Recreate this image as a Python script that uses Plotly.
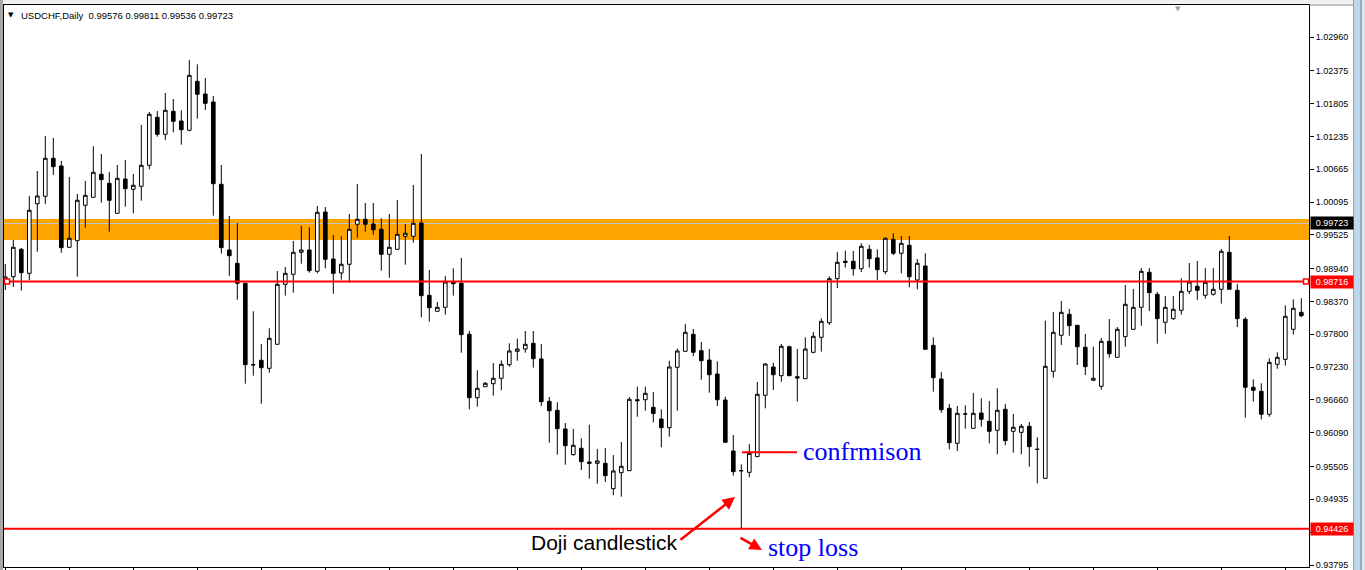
import plotly.graph_objects as go

# ---------------- data (USDCHF daily) ----------------
bar_index = list(range(163))

open_ = [0.98725,0.98799,0.99275,0.98858,1.00066,1.00195,1.00855,1.00721,0.99310,0.99424,
         1.00039,1.00178,1.00577,1.00421,0.99900,1.00495,1.00316,1.00369,1.00733,1.01566,
         1.01271,1.01670,1.01502,1.01341,1.02191,1.01971,1.01832,1.00403,0.99263,0.99032,
         0.98685,0.97271,0.97348,0.97209,0.97626,0.98667,0.98841,0.99223,0.99263,0.98893,
         0.99922,0.99106,0.98864,0.99015,0.99709,0.99796,0.99714,0.99622,0.99188,0.99275,
         0.99501,0.99501,0.99732,0.98477,0.98199,0.98268,0.98707,0.98685,0.97800,0.96699,
         0.96890,0.96942,0.97036,0.97272,0.97504,0.97544,0.97643,0.97371,0.96636,0.96480,
         0.96156,0.95710,0.95821,0.95583,0.95560,0.95560,0.95120,0.95397,0.95432,0.96664,
         0.96664,0.96532,0.96329,0.96179,0.97227,0.97504,0.97800,0.97515,0.97353,0.97110,
         0.96659,0.95774,0.95432,0.95404,0.95676,0.96741,0.97232,0.97081,0.97584,0.97063,
         0.97029,0.97487,0.97747,0.98001,0.98765,0.99067,0.99067,0.98938,0.99275,0.99126,
         0.98886,0.99448,0.99206,0.99345,0.98742,0.98985,0.97608,0.97024,0.96515,0.95908,
         0.96416,0.96168,0.96433,0.96289,0.96133,0.96498,0.96116,0.96098,0.96203,0.95803,
         0.95300,0.97157,0.97782,0.98147,0.97956,0.97574,0.97001,0.96897,0.97678,0.97400,
         0.97758,0.97886,0.98268,0.98876,0.98494,0.98008,0.98071,0.98216,0.98546,0.98633,
         0.98477,0.98494,0.98581,0.99223,0.98564,0.98061,0.96880,0.96810,0.96411,0.97279,
         0.97365,0.97886,0.98181]

high = [0.99020,0.99436,0.99298,1.00200,1.00634,1.01242,1.01207,1.00808,1.00530,1.00235,
        1.00461,1.01063,1.00929,1.00617,1.00738,1.00825,1.00582,1.01433,1.01658,1.01676,
        1.01988,1.01884,1.01688,1.02561,1.02486,1.02248,1.01936,1.00738,0.99853,0.99732,
        0.98690,0.98199,0.97631,0.97904,0.98898,0.98968,0.99419,0.99679,0.99657,1.00027,
        1.00009,0.99523,0.99501,0.99888,1.00409,1.00079,1.00079,0.99813,0.99888,1.00131,
        0.99714,1.00391,1.00929,0.98916,0.98360,0.98812,0.98945,0.99124,0.97857,0.97175,
        0.96972,0.97301,0.97348,0.97643,0.97723,0.97857,0.97857,0.97631,0.96711,0.96619,
        0.96260,0.96156,0.95994,0.96230,0.95809,0.95826,0.95704,0.95930,0.96711,0.96890,
        0.96890,0.96798,0.96498,0.97341,0.97550,0.97978,0.97892,0.97666,0.97544,0.97330,
        0.96717,0.96052,0.95543,0.95895,0.96972,0.97301,0.97307,0.97631,0.97602,0.97544,
        0.97747,0.97839,0.98077,0.98806,0.99228,0.99251,0.99246,0.99379,0.99350,0.99275,
        0.99483,0.99553,0.99506,0.99506,0.99106,0.99206,0.97747,0.97145,0.96590,0.96555,
        0.96567,0.96781,0.96689,0.96642,0.96862,0.96590,0.96416,0.96243,0.96277,0.96012,
        0.98036,0.98187,0.98377,0.98239,0.97956,0.97805,0.97584,0.97735,0.98065,0.97926,
        0.98655,0.98586,0.98950,0.98950,0.98534,0.98465,0.98465,0.98772,0.99037,0.99072,
        0.98950,0.98950,0.99280,0.99506,0.98673,0.98095,0.97018,0.96949,0.97383,0.97487,
        0.98303,0.98407,0.98425]

low = [0.98569,0.98621,0.98560,0.98742,0.99233,1.00061,1.00565,0.99216,0.99303,0.98799,
       0.99650,1.00178,1.00084,0.99581,0.99900,1.00014,0.99900,1.00119,1.00664,1.01230,
       1.01172,1.01306,1.01091,1.01323,1.01542,1.01693,0.99858,0.99202,0.98812,0.98400,
       0.96942,0.97081,0.96595,0.97133,0.97626,0.98470,0.98522,0.99025,0.98869,0.98858,
       0.98945,0.98504,0.98747,0.98695,0.99476,0.99581,0.99528,0.98904,0.98782,0.99275,
       0.99008,0.99390,0.98095,0.98018,0.98199,0.98140,0.98470,0.97480,0.96498,0.96543,
       0.96890,0.96734,0.96829,0.97237,0.97341,0.97480,0.97220,0.96555,0.95918,0.95710,
       0.95536,0.95693,0.95444,0.95293,0.95206,0.95236,0.95005,0.94981,0.95432,0.96369,
       0.96473,0.96269,0.95838,0.96022,0.96473,0.97504,0.97423,0.97011,0.96786,0.96555,
       0.95925,0.95345,0.94426,0.95317,0.95676,0.96515,0.96833,0.96977,0.97081,0.96630,
       0.97029,0.97470,0.97498,0.97961,0.98603,0.98956,0.98817,0.98881,0.98956,0.98742,
       0.98841,0.99176,0.98858,0.98616,0.98581,0.97539,0.96803,0.96439,0.95803,0.95774,
       0.96161,0.96168,0.96196,0.95908,0.95717,0.95873,0.95744,0.95717,0.95501,0.95213,
       0.95300,0.97046,0.97614,0.97774,0.97266,0.97093,0.97001,0.96838,0.97393,0.97400,
       0.97584,0.97886,0.97949,0.98204,0.97636,0.97810,0.98048,0.98140,0.98499,0.98395,
       0.98418,0.98470,0.98331,0.98581,0.97926,0.96352,0.96630,0.96324,0.96369,0.97202,
       0.97255,0.97793,0.98095]

close = [0.98794,0.99310,0.98869,0.99952,1.00200,1.00855,1.00709,0.99303,0.99466,1.00126,
         1.00212,1.00612,1.00483,1.00126,1.00507,1.00327,1.00386,1.00733,1.01618,1.01271,
         1.01688,1.01497,1.01351,1.02295,1.01966,1.01809,1.00414,0.99303,0.99164,0.98685,
         0.97272,0.97271,0.97220,0.97730,0.98667,0.98858,0.99223,0.99263,0.98904,0.99917,
         0.99101,0.98858,0.99015,0.99622,0.99796,0.99709,0.99615,0.99188,0.99310,0.99535,
         0.99553,0.99726,0.98470,0.98261,0.98268,0.98707,0.98678,0.97793,0.96699,0.96862,
         0.96949,0.97036,0.97279,0.97510,0.97544,0.97626,0.97376,0.96630,0.96473,0.96161,
         0.95866,0.95873,0.95588,0.95560,0.95601,0.95345,0.95427,0.95508,0.96671,0.96647,
         0.96775,0.96425,0.96179,0.97232,0.97510,0.97834,0.97487,0.97341,0.97098,0.96664,
         0.95925,0.95415,0.95432,0.95734,0.96758,0.97284,0.97098,0.97591,0.97081,0.97041,
         0.97544,0.97765,0.98025,0.98765,0.99049,0.99049,0.98938,0.99327,0.99112,0.98921,
         0.99466,0.99206,0.99379,0.98799,0.99032,0.97539,0.97046,0.96491,0.95918,0.96428,
         0.96416,0.96428,0.96324,0.96116,0.96480,0.95953,0.96186,0.96203,0.95849,0.95803,
         0.97244,0.97834,0.98181,0.97949,0.97584,0.97237,0.97036,0.97678,0.97463,0.97886,
         0.98320,0.98268,0.98893,0.98522,0.98071,0.98268,0.98234,0.98546,0.98707,0.98564,
         0.98702,0.98581,0.99240,0.98581,0.98071,0.96880,0.96828,0.96411,0.97313,0.97400,
         0.98112,0.98251,0.98122]

price_ticks = [1.02960, 1.02375, 1.01805, 1.01235, 1.00665, 1.00095, 0.99525, 0.98940,
               0.98370, 0.97800, 0.97230, 0.96660, 0.96090, 0.95505, 0.94935, 0.94365, 0.93795]
price_tick_text = ["%.5f" % v for v in price_ticks]

header_text = "USDCHF,Daily \u00a00.99576 0.99811 0.99536 0.99723"
bid_price = 0.99723
resistance_zone = (0.99436, 0.99801)
support_line = 0.98716
stop_loss_level = 0.94426
confirmation_level = 0.95750

# ---------------- geometry helpers (pixel -> paper) ----------------
W, H = 1365, 570
ML, MR, MT, MB = 4, 56, 5, 3
PW, PH = W - ML - MR, H - MT - MB


def xp(px):
    return (px - ML) / PW


def yp(py):
    return (H - MB - py) / PH


fig = go.Figure()
fig.add_trace(go.Candlestick(
    x=bar_index, open=open_, high=high, low=low, close=close,
    increasing=dict(line=dict(color="black", width=1), fillcolor="white"),
    decreasing=dict(line=dict(color="black", width=1), fillcolor="black"),
    whiskerwidth=0, hoverinfo="skip", showlegend=False,
))

shapes = []
# orange resistance zone and grey bid line
shapes.append(dict(type="rect", xref="paper", yref="y", x0=0, x1=1,
                   y0=resistance_zone[0], y1=resistance_zone[1],
                   fillcolor="#FFA500", line=dict(width=0), layer="below"))
shapes.append(dict(type="line", xref="paper", yref="y", x0=0, x1=1,
                   y0=bid_price, y1=bid_price, line=dict(color="#C8C8C8", width=1), layer="below"))
# red horizontal levels
for lvl in (support_line, stop_loss_level):
    shapes.append(dict(type="line", xref="paper", yref="y", x0=0, x1=1, y0=lvl, y1=lvl,
                       line=dict(color="#FF0000", width=2), layer="above"))
# small squares at ends of support line
for px in (7, 1306):
    shapes.append(dict(type="rect", xref="paper", yref="y", xsizemode="pixel", ysizemode="pixel",
                       xanchor=xp(px), yanchor=support_line, x0=-2.5, x1=2.5, y0=-2.5, y1=2.5,
                       fillcolor="white", line=dict(color="#FF0000", width=1.5), layer="above"))
# confirmation line
shapes.append(dict(type="line", xref="paper", yref="y", x0=xp(742), x1=xp(797),
                   y0=confirmation_level, y1=confirmation_level,
                   line=dict(color="#FF0000", width=2), layer="above"))
# window chrome: top strip, left strip, scrollbar
shapes.append(dict(type="rect", xref="paper", yref="paper", x0=xp(0), x1=xp(1365), y0=yp(0), y1=yp(3.5),
                   fillcolor="#F0F0F0", line=dict(width=0), layer="below"))
shapes.append(dict(type="rect", xref="paper", yref="paper", x0=xp(0), x1=xp(3), y0=yp(0), y1=yp(570),
                   fillcolor="#A8A8A8", line=dict(width=0), layer="below"))
shapes.append(dict(type="line", xref="paper", yref="paper", x0=1, x1=xp(1354), y0=1, y1=1,
                   line=dict(color="#808080", width=1)))
shapes.append(dict(type="rect", xref="paper", yref="paper", x0=xp(1353), x1=xp(1354.5), y0=yp(0), y1=yp(570),
                   fillcolor="#A0A0A0", line=dict(width=0)))
shapes.append(dict(type="rect", xref="paper", yref="paper", x0=xp(1354.5), x1=xp(1360), y0=yp(0), y1=yp(570),
                   fillcolor="#BCD8F0", line=dict(width=0)))
shapes.append(dict(type="rect", xref="paper", yref="paper", x0=xp(1360), x1=xp(1362), y0=yp(0), y1=yp(570),
                   fillcolor="#8EAFCB", line=dict(width=0)))
shapes.append(dict(type="rect", xref="paper", yref="paper", x0=xp(1362), x1=xp(1365), y0=yp(0), y1=yp(570),
                   fillcolor="#E4E4E4", line=dict(width=0)))

ann = []
# header
ann.append(dict(xref="paper", yref="paper", x=xp(11), y=yp(15), text="\u25BC", showarrow=False,
                font=dict(family="DejaVu Sans", size=7, color="black"), xanchor="center", yanchor="middle"))
ann.append(dict(xref="paper", yref="paper", x=xp(19), y=yp(15), text=header_text, showarrow=False,
                font=dict(family="Liberation Sans", size=9.5, color="black"), xanchor="left", yanchor="middle"))
# chart-shift marker
ann.append(dict(xref="paper", yref="paper", x=xp(1178), y=yp(9), text="\u25BC", showarrow=False,
                font=dict(family="DejaVu Sans", size=7, color="#A0A0A0"), xanchor="center", yanchor="middle"))
# price tags on the axis
for val, bg in ((bid_price, "black"), (support_line, "#FF0000"), (stop_loss_level, "#FF0000")):
    ann.append(dict(xref="paper", yref="y", x=xp(1310), y=val, text="%.5f" % val, showarrow=False,
                    xanchor="left", yanchor="middle", bgcolor=bg, borderpad=1, width=40, align="center",
                    font=dict(family="Liberation Sans", size=9, color="white")))
# text labels
ann.append(dict(xref="paper", yref="paper", x=xp(801), y=yp(451), text="confrmison", showarrow=False,
                xanchor="left", yanchor="middle",
                font=dict(family="Liberation Serif", size=26, color="#0000FF")))
ann.append(dict(xref="paper", yref="paper", x=xp(766), y=yp(547), text="stop loss", showarrow=False,
                xanchor="left", yanchor="middle",
                font=dict(family="Liberation Serif", size=26, color="#0000FF")))
ann.append(dict(xref="paper", yref="paper", x=xp(529), y=yp(542), text="Doji candlestick", showarrow=False,
                xanchor="left", yanchor="middle",
                font=dict(family="Liberation Sans", size=21, color="black")))
# red arrows
ann.append(dict(xref="paper", yref="paper", x=xp(735), y=yp(497), ax=-56, ay=44, text="",
                showarrow=True, arrowhead=2, arrowsize=1, arrowwidth=2.5, arrowcolor="#FF0000"))
ann.append(dict(xref="paper", yref="paper", x=xp(762), y=yp(550), ax=-23, ay=-13, text="",
                showarrow=True, arrowhead=2, arrowsize=1, arrowwidth=2.5, arrowcolor="#FF0000"))

# ranges matching pixel placement (8 px per bar)
x_lo = (ML - 5.3) / 8.0
x_hi = (ML + PW - 5.3) / 8.0
y_per_px = 0.00017358
y_top_price = 1.02960 + (37 - MT) * y_per_px
y_bot_price = y_top_price - PH * y_per_px

fig.update_layout(
    width=W, height=H, margin=dict(l=ML, r=MR, t=MT, b=MB, pad=0, autoexpand=False),
    paper_bgcolor="white", plot_bgcolor="white", showlegend=False,
    boxgap=0.35, shapes=shapes, annotations=ann,
    font=dict(family="Liberation Sans", size=9, color="black"),
    xaxis=dict(range=[x_lo, x_hi], showgrid=False, zeroline=False, showline=True,
               linecolor="black", linewidth=1, mirror=True, ticks="outside", ticklen=3,
               tickcolor="black", tickvals=list(range(0, 163, 8)), showticklabels=False,
               rangeslider=dict(visible=False), fixedrange=True, automargin=False),
    yaxis=dict(range=[y_bot_price, y_top_price], side="right", showgrid=False, zeroline=False,
               showline=True, linecolor="black", linewidth=1, mirror=True, ticks="outside",
               ticklen=4, tickcolor="black", tickvals=price_ticks, ticktext=price_tick_text,
               tickfont=dict(family="Liberation Sans", size=9, color="black"), fixedrange=True,
               automargin=False, ticklabeloverflow="allow"),
)

fig.write_html(
    "out.html",
    config={"displayModeBar": False, "staticPlot": True},
    post_script="document.body.style.margin='0';document.body.style.overflow='hidden';",
)
